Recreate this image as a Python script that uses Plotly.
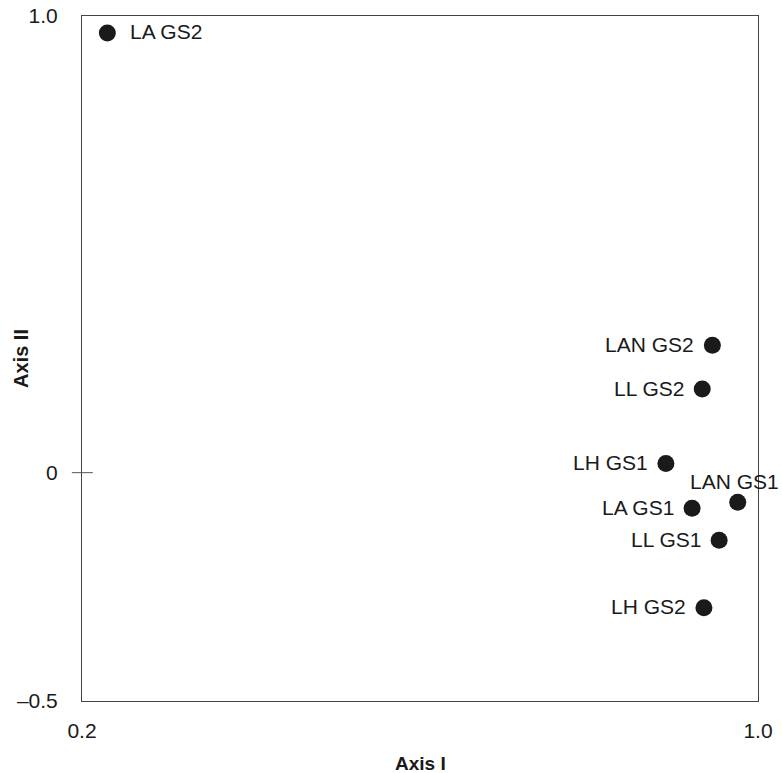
import plotly.graph_objects as go

labels = ["LA GS2", "LAN GS2", "LL GS2", "LH GS1", "LAN GS1", "LA GS1", "LL GS1", "LH GS2"]
axis1 = [0.230, 0.946, 0.934, 0.891, 0.976, 0.922, 0.954, 0.936]
axis2 = [0.963, 0.279, 0.183, 0.020, -0.065, -0.078, -0.148, -0.296]
label_side = ["right", "left", "left", "left", "top", "left", "left", "left"]

x_ticks = [0.2, 1.0]
x_ticktext = ["0.2", "1.0"]
y_ticks = [-0.5, 0, 1.0]
y_ticktext = ["\u20130.5", "0", "1.0"]

FONT = "Liberation Sans, Arial, sans-serif"
INK = "#1a1a1a"
LABEL_SIZE = 21

fig = go.Figure()
fig.add_trace(go.Scatter(
    x=axis1, y=axis2, mode="markers",
    marker=dict(size=17, color=INK, line=dict(width=0)),
    cliponaxis=False, showlegend=False, hoverinfo="text", text=labels,
))

for lab, xv, yv, side in zip(labels, axis1, axis2, label_side):
    if side == "left":
        fig.add_annotation(x=xv, y=yv, text=lab, showarrow=False, xanchor="right",
                           yanchor="middle", xshift=-16, yshift=1,
                           font=dict(family=FONT, size=LABEL_SIZE, color=INK))
    elif side == "right":
        fig.add_annotation(x=xv, y=yv, text=lab, showarrow=False, xanchor="left",
                           yanchor="middle", xshift=21, yshift=1,
                           font=dict(family=FONT, size=LABEL_SIZE, color=INK))
    else:
        fig.add_annotation(x=xv, y=yv, text=lab, showarrow=False, xanchor="center",
                           yanchor="middle", xshift=-3, yshift=21,
                           font=dict(family=FONT, size=LABEL_SIZE, color=INK))

# short tick mark at y = 0 crossing the left axis
fig.add_shape(type="line", xref="paper", yref="y", x0=-0.015, x1=0.016, y0=0, y1=0,
              line=dict(color="#555555", width=1))

fig.add_annotation(xref="paper", yref="paper", x=0.5, y=-0.091, yanchor="middle",
                   text="<b>Axis I</b>", showarrow=False,
                   font=dict(family=FONT, size=19, color=INK))
fig.add_annotation(xref="paper", yref="paper", x=-0.091, y=0.50, xanchor="center",
                   yanchor="middle", text="<b>Axis II</b>", showarrow=False, textangle=-90,
                   font=dict(family=FONT, size=20, color=INK))

fig.update_layout(
    width=782, height=773,
    margin=dict(l=82, r=24, t=16, b=72, pad=0, autoexpand=False),
    paper_bgcolor="white", plot_bgcolor="white",
    font=dict(family=FONT, size=21, color=INK),
    xaxis=dict(range=[0.2, 1.0], tickvals=x_ticks, ticktext=x_ticktext,
               showgrid=False, zeroline=False, showline=True, mirror=True,
               linecolor="#444444", linewidth=1, ticks="", ticklabelstandoff=11,
               automargin=False,
               tickfont=dict(family=FONT, size=21, color=INK)),
    yaxis=dict(range=[-0.5, 1.0], tickvals=y_ticks, ticktext=y_ticktext,
               showgrid=False, zeroline=False, showline=True, mirror=True,
               linecolor="#444444", linewidth=1, ticks="", ticklabelstandoff=19,
               automargin=False,
               tickfont=dict(family=FONT, size=21, color=INK)),
)

fig.write_html(
    "out.html",
    config={"displayModeBar": False},
    post_script="document.body.style.margin='0';document.body.style.overflow='hidden';",
)
